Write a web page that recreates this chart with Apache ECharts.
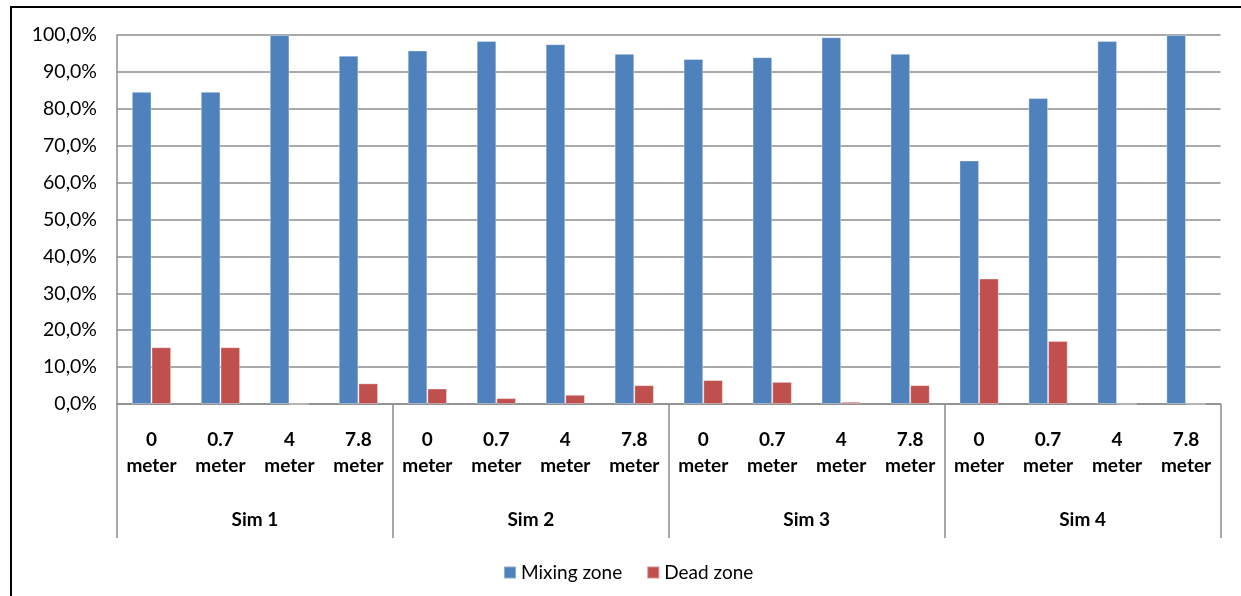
<!DOCTYPE html>
<html>
<head>
<meta charset="utf-8">
<script src="https://cdn.jsdelivr.net/npm/echarts@6/dist/echarts.min.js"></script>
<style>
  html, body { margin: 0; padding: 0; background: #fff; }
  #chart { width: 1241px; height: 596px; }
</style>
</head>
<body>
<div id="chart"></div>
<script>
// Distance labels along the column (one per bar pair)
const positions = ['0\nmeter', '0.7\nmeter', '4\nmeter', '7.8\nmeter'];
const simulations = ['Sim 1', 'Sim 2', 'Sim 3', 'Sim 4'];
// Share of volume per zone, in percent, Sim 1..4 x 4 positions
const mixingZone = [84.6, 84.6, 100.0, 94.4, 95.8, 98.4, 97.5, 94.9, 93.5, 94.0, 99.4, 94.9, 66.0, 82.9, 98.4, 100.0];
const deadZone   = [15.4, 15.4, 0.0, 5.6, 4.2, 1.6, 2.5, 5.1, 6.5, 6.0, 0.6, 5.1, 34.0, 17.1, 0.0, 0.0];
const seriesNames = ['Mixing zone', 'Dead zone'];

const categories = [];
simulations.forEach(() => positions.forEach(p => categories.push(p)));

const FONT = 'Lato, "Noto Sans", sans-serif';
const GRID_COLOR = '#8c8c8c';

const chart = echarts.init(document.getElementById('chart'), null, { renderer: 'canvas' });

chart.setOption({
  animation: false,
  backgroundColor: '#ffffff',
  textStyle: { fontFamily: FONT, color: '#000' },
  graphic: [
    { type: 'line', shape: { x1: 11, y1: 6, x2: 11, y2: 596 }, style: { stroke: '#000', lineWidth: 2 } },
    { type: 'line', shape: { x1: 10, y1: 7, x2: 1241, y2: 7 }, style: { stroke: '#000', lineWidth: 2 } }
  ],
  grid: { left: 117, top: 35, width: 1103.5, height: 369, containLabel: false },
  legend: {
    data: seriesNames,
    left: 498,
    top: 558,
    icon: 'rect',
    itemWidth: 12,
    itemHeight: 12,
    itemGap: 24,
    textStyle: { fontFamily: FONT, fontSize: 19, color: '#000' }
  },
  xAxis: [
    {
      type: 'category',
      data: categories,
      position: 'bottom',
      axisLine: { show: true, lineStyle: { color: GRID_COLOR, width: 1.5 } },
      axisTick: { show: false },
      axisLabel: {
        interval: 0,
        margin: 23,
        fontFamily: FONT,
        fontSize: 19,
        fontWeight: 'bold',
        lineHeight: 26,
        color: '#000'
      },
      splitLine: { show: false }
    },
    {
      type: 'category',
      data: simulations,
      position: 'bottom',
      axisLine: { show: false },
      axisTick: { show: true, length: 134, interval: 0, lineStyle: { color: GRID_COLOR, width: 1.5 } },
      axisLabel: {
        interval: 0,
        margin: 106,
        fontFamily: FONT,
        fontSize: 19,
        fontWeight: 'bold',
        color: '#000'
      },
      splitLine: { show: false }
    }
  ],
  yAxis: {
    type: 'value',
    min: 0,
    max: 100,
    interval: 10,
    axisLine: { show: true, lineStyle: { color: GRID_COLOR, width: 1.5 } },
    axisTick: { show: false },
    axisLabel: {
      margin: 20,
      fontFamily: FONT,
      fontSize: 19.5,
      color: '#000',
      formatter: v => v.toFixed(1).replace('.', ',') + '%'
    },
    splitLine: { show: true, lineStyle: { color: GRID_COLOR, width: 1.5 } }
  },
  series: [
    {
      name: seriesNames[0],
      type: 'bar',
      xAxisIndex: 0,
      data: mixingZone,
      barGap: '0%',
      barCategoryGap: '43%',
      itemStyle: { color: '#4F81BD', borderColor: 'rgba(255,255,255,0.35)', borderWidth: 1 }
    },
    {
      name: seriesNames[1],
      type: 'bar',
      xAxisIndex: 0,
      data: deadZone,
      barGap: '0%',
      barCategoryGap: '43%',
      itemStyle: { color: '#C0504D', borderColor: 'rgba(255,255,255,0.35)', borderWidth: 1 }
    }
  ]
});
</script>
</body>
</html>
